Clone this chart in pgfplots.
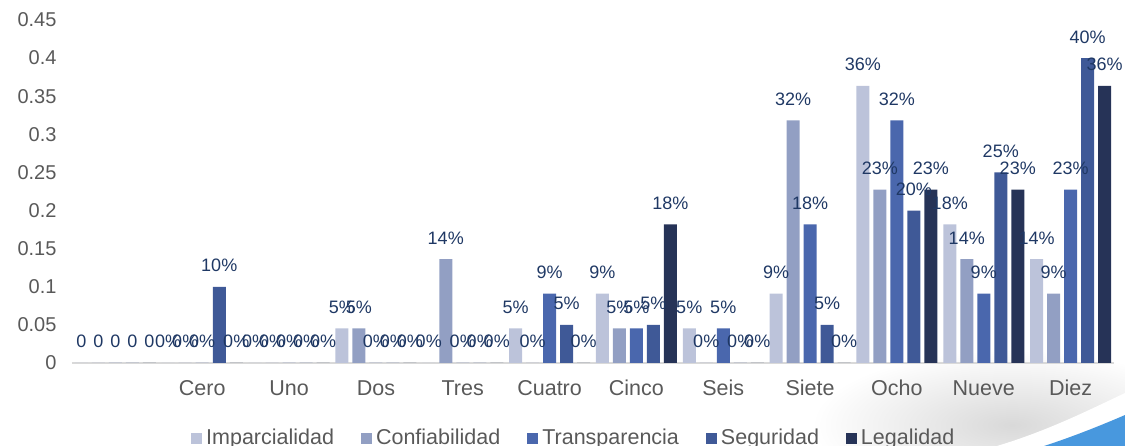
\documentclass[border=0pt]{standalone}
\usepackage{fontspec}
\setmainfont{Liberation Sans}
\usepackage{pgfplots}
\usepackage{pgfplotstable}
\pgfplotsset{compat=1.18}

\definecolor{cImp}{RGB}{188,195,218}
\definecolor{cConf}{RGB}{146,159,195}
\definecolor{cTrans}{RGB}{74,103,173}
\definecolor{cSeg}{RGB}{63,89,151}
\definecolor{cLeg}{RGB}{38,51,87}
\definecolor{lblBlue}{RGB}{31,56,100}
\definecolor{tickGray}{RGB}{89,89,89}
\definecolor{baseGray}{RGB}{217,217,217}
\definecolor{swoosh}{RGB}{72,152,222}

% share of answers per score (categories 1..11 = Cero..Diez)
\pgfplotstableread{
x   imp    conf   trans  seg   leg
1   0      0      0      0.10  0
2   0      0      0      0     0
3   0.0455 0.0455 0      0     0
4   0      0.1364 0      0     0
5   0.0455 0      0.0909 0.05  0
6   0.0909 0.0455 0.0455 0.05  0.1818
7   0.0455 0      0.0455 0     0
8   0.0909 0.3182 0.1818 0.05  0
9   0.3636 0.2273 0.3182 0.20  0.2273
10  0.1818 0.1364 0.0909 0.25  0.2273
11  0.1364 0.0909 0.2273 0.40  0.3636
}\scores

% unnamed leading category, all zero
\pgfplotstableread{
x v
0 0
}\blank

\pgfplotsset{
  pctlabels/.style={
    point meta={100*\thisrow{#1}},
    nodes near coords={\pgfmathprintnumber[fixed,precision=0]{\pgfplotspointmeta}\%},
  },
}

\begin{document}
\begin{tikzpicture}
  % soft background and corner swoosh
  \shade[inner color=gray!30, outer color=white] (940pt,-62pt) ellipse (200pt and 75pt);
  \fill[white] (925pt,-83pt) .. controls (975pt,-68pt) and (1015pt,-48pt) .. (1053pt,-30pt) -- (1053pt,-83pt) -- cycle;
  \fill[swoosh] (972pt,-83pt) .. controls (1000pt,-74pt) and (1030pt,-62pt) .. (1053pt,-52pt) -- (1053pt,-83pt) -- cycle;

  \begin{axis}[
    ybar=4pt, bar width=13pt,
    scale only axis, width=1042pt, height=343pt,
    xmin=-0.5, xmax=11.5, ymin=0, ymax=0.45,
    xtick={1,...,11},
    xticklabels={Cero,Uno,Dos,Tres,Cuatro,Cinco,Seis,Siete,Ocho,Nueve,Diez},
    ytick={0,0.05,0.1,0.15,0.2,0.25,0.3,0.35,0.4,0.45},
    /pgf/number format/fixed,
    /pgf/number format/precision=2,
    /pgf/number format/assume math mode=true,
    axis lines*=left,
    x axis line style={baseGray, line width=1.6pt},
    y axis line style={draw=none},
    major tick length=0pt,
    tick label style={font=\fontsize{20}{24}\selectfont, text=tickGray},
    yticklabel style={anchor=east, xshift=-12pt},
    xticklabel style={anchor=base, yshift=-33pt, font=\fontsize{21.5}{25}\selectfont},
    every node near coord/.append style={font=\fontsize{18}{22}\selectfont, text=lblBlue, anchor=base, yshift=15pt},
    clip=false,
    legend columns=-1,
    legend style={
      draw=none, fill=none,
      at={(0.481,-0.218)}, anchor=center,
      font=\fontsize{21.5}{25}\selectfont, text=tickGray,
      nodes={inner sep=1pt},
      /tikz/every odd column/.append style={column sep=3pt},
      /tikz/every even column/.append style={column sep=26pt},
    },
    legend image code/.code={\fill[#1] (0pt,-6.5pt) rectangle (11pt,4.5pt);},
  ]
    \addplot[fill=cImp,   draw=none, bar shift=-34pt, pctlabels=imp]   table[x=x,y=imp]   {\scores};
    \addplot[fill=cConf,  draw=none, bar shift=-17pt, pctlabels=conf]  table[x=x,y=conf]  {\scores};
    \addplot[fill=cTrans, draw=none, bar shift=0pt,   pctlabels=trans] table[x=x,y=trans] {\scores};
    \addplot[fill=cSeg,   draw=none, bar shift=17pt,  pctlabels=seg]   table[x=x,y=seg]   {\scores};
    \addplot[fill=cLeg,   draw=none, bar shift=34pt,  pctlabels=leg]   table[x=x,y=leg]   {\scores};
    \legend{Imparcialidad,Confiabilidad,Transparencia,Seguridad,Legalidad}

    \addplot[fill=cImp,   draw=none, bar shift=-34pt, forget plot, nodes near coords={0}] table[x=x,y=v] {\blank};
    \addplot[fill=cConf,  draw=none, bar shift=-17pt, forget plot, nodes near coords={0}] table[x=x,y=v] {\blank};
    \addplot[fill=cTrans, draw=none, bar shift=0pt,   forget plot, nodes near coords={0}] table[x=x,y=v] {\blank};
    \addplot[fill=cSeg,   draw=none, bar shift=17pt,  forget plot, nodes near coords={0}] table[x=x,y=v] {\blank};
    \addplot[fill=cLeg,   draw=none, bar shift=34pt,  forget plot, nodes near coords={0}] table[x=x,y=v] {\blank};
  \end{axis}

  \pgfresetboundingbox
  \path[use as bounding box] (-72pt,-83pt) rectangle (1053pt,363pt);
\end{tikzpicture}
\end{document}
